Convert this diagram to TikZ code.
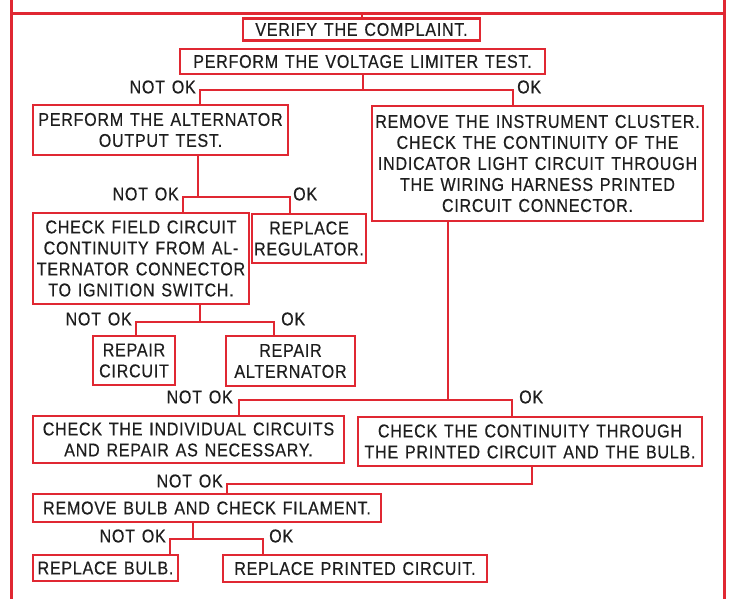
\documentclass[tikz,border=0pt]{standalone}
\usepackage{fontspec}
\setmainfont{Liberation Sans}[FakeStretch=0.87,LetterSpace=4,WordSpace=1.3,FakeBold=0.4]
\definecolor{redline}{RGB}{224,40,50}
\definecolor{ink}{RGB}{30,30,30}
\begin{document}
\begin{tikzpicture}[x=1pt,y=-1pt,
  box/.style={draw=redline,line width=2.4pt,text=ink,align=center,inner sep=0pt,
    font=\fontsize{18.5}{21}\selectfont},
  lbl/.style={text=ink,inner sep=1pt,font=\fontsize{18.5}{21}\selectfont},
  nok/.style={lbl,anchor=east,yshift=3pt,xshift=-3pt},
  conn/.style={draw=redline,line width=2pt},
  frameline/.style={draw=redline,line width=3pt}]
\useasboundingbox[fill=white] (0,0) rectangle (731,599);

% frame
\coordinate (ftl) at (11,14);
\coordinate (ftr) at (724,14);
\draw[frameline] (11,0) -- (11,599);
\draw[frameline] (724,0) -- (724,599);
\draw[frameline] (ftl) -- (ftr);

% boxes
\node[box,minimum width=237pt,minimum height=22pt] (verify) at (361.5,29.5) {VERIFY THE COMPLAINT.};
\node[box,minimum width=365pt,minimum height=25pt] (voltage) at (362.5,61.5) {PERFORM THE VOLTAGE LIMITER TEST.};
\node[box,minimum width=255pt,minimum height=50pt] (altout) at (160.5,130) {PERFORM THE ALTERNATOR\\OUTPUT TEST.};
\node[box,minimum width=331pt,minimum height=115pt] (cluster) at (537.5,163.5) {REMOVE THE INSTRUMENT CLUSTER.\\CHECK THE CONTINUITY OF THE\\INDICATOR LIGHT CIRCUIT THROUGH\\THE WIRING HARNESS PRINTED\\CIRCUIT CONNECTOR.};
\node[box,minimum width=216pt,minimum height=91pt] (field) at (141,258.5) {CHECK FIELD CIRCUIT\\CONTINUITY FROM AL-\\TERNATOR CONNECTOR\\TO IGNITION SWITCH.};
\node[box,minimum width=114pt,minimum height=49pt] (regulator) at (309,238.5) {REPLACE\\REGULATOR.};
\node[box,minimum width=82pt,minimum height=49pt] (repcirc) at (134,360.5) {REPAIR\\CIRCUIT};
\node[box,minimum width=129pt,minimum height=50pt] (repalt) at (290.5,361) {REPAIR\\ALTERNATOR};
\node[box,minimum width=311pt,minimum height=47pt] (indiv) at (188.5,439.5) {CHECK THE INDIVIDUAL CIRCUITS\\AND REPAIR AS NECESSARY.};
\node[box,minimum width=344pt,minimum height=49pt] (contin) at (530,441.5) {CHECK THE CONTINUITY THROUGH\\THE PRINTED CIRCUIT AND THE BULB.};
\node[box,minimum width=348pt,minimum height=28pt] (bulbchk) at (207,508) {REMOVE BULB AND CHECK FILAMENT.};
\node[box,minimum width=145pt,minimum height=26pt] (repbulb) at (105.5,568) {REPLACE BULB.};
\node[box,minimum width=264pt,minimum height=27pt] (repprint) at (355,568.5) {REPLACE PRINTED CIRCUIT.};

% top tick
\draw[conn] (verify.north |- ftl) -- (verify.north);

% voltage -> altout / cluster
\coordinate (s1) at (362.5,90); \coordinate (l1) at (200,90); \coordinate (r1) at (513,90);
\draw[conn] (voltage.south) -- (s1);
\draw[conn] (altout.north -| l1) -- (l1) -- (r1) -- (cluster.north -| r1);
\node[nok] (nok1) at (l1) {NOT OK};
\node[lbl,anchor=west,yshift=3pt,xshift=3pt] (ok1) at (r1) {OK};

% altout -> field / regulator
\coordinate (s2) at (198,197); \coordinate (l2) at (183,197); \coordinate (r2) at (290,197);
\draw[conn] (altout.south -| s2) -- (s2);
\draw[conn] (field.north -| l2) -- (l2) -- (r2) -- (regulator.north -| r2);
\node[nok] (nok2) at (l2) {NOT OK};
\node[lbl,anchor=west,yshift=3pt,xshift=2pt] (ok2) at (r2) {OK};

% field -> repcirc / repalt
\coordinate (s3) at (200,322); \coordinate (l3) at (136,322); \coordinate (r3) at (274,322);
\draw[conn] (field.south -| s3) -- (s3);
\draw[conn] (repcirc.north -| l3) -- (l3) -- (r3) -- (repalt.north -| r3);
\node[nok] (nok3) at (l3) {NOT OK};
\node[lbl,anchor=west,yshift=3pt,xshift=6pt] (ok3) at (r3) {OK};

% cluster -> indiv / contin
\coordinate (s4) at (448,400); \coordinate (l4) at (239,400); \coordinate (r4) at (512,400);
\draw[conn] (cluster.south -| s4) -- (s4);
\draw[conn] (indiv.north -| l4) -- (l4) -- (r4) -- (contin.north -| r4);
\node[nok,xshift=-2pt] (nok4) at (l4) {NOT OK};
\node[lbl,anchor=west,yshift=3pt,xshift=6pt] (ok4) at (r4) {OK};

% contin -> bulbchk
\coordinate (s5) at (532,484); \coordinate (l5) at (227,484);
\draw[conn] (contin.south -| s5) -- (s5) -- (l5) -- (bulbchk.north -| l5);
\node[nok] (nok5) at (l5) {NOT OK};

% bulbchk -> repbulb / repprint
\coordinate (s6) at (193,539); \coordinate (l6) at (170,539); \coordinate (r6) at (263,539);
\draw[conn] (bulbchk.south -| s6) -- (s6);
\draw[conn] (repbulb.north -| l6) -- (l6) -- (r6) -- (repprint.north -| r6);
\node[nok] (nok6) at (l6) {NOT OK};
\node[lbl,anchor=west,yshift=3pt,xshift=5pt] (ok6) at (r6) {OK};
\end{tikzpicture}
\end{document}
